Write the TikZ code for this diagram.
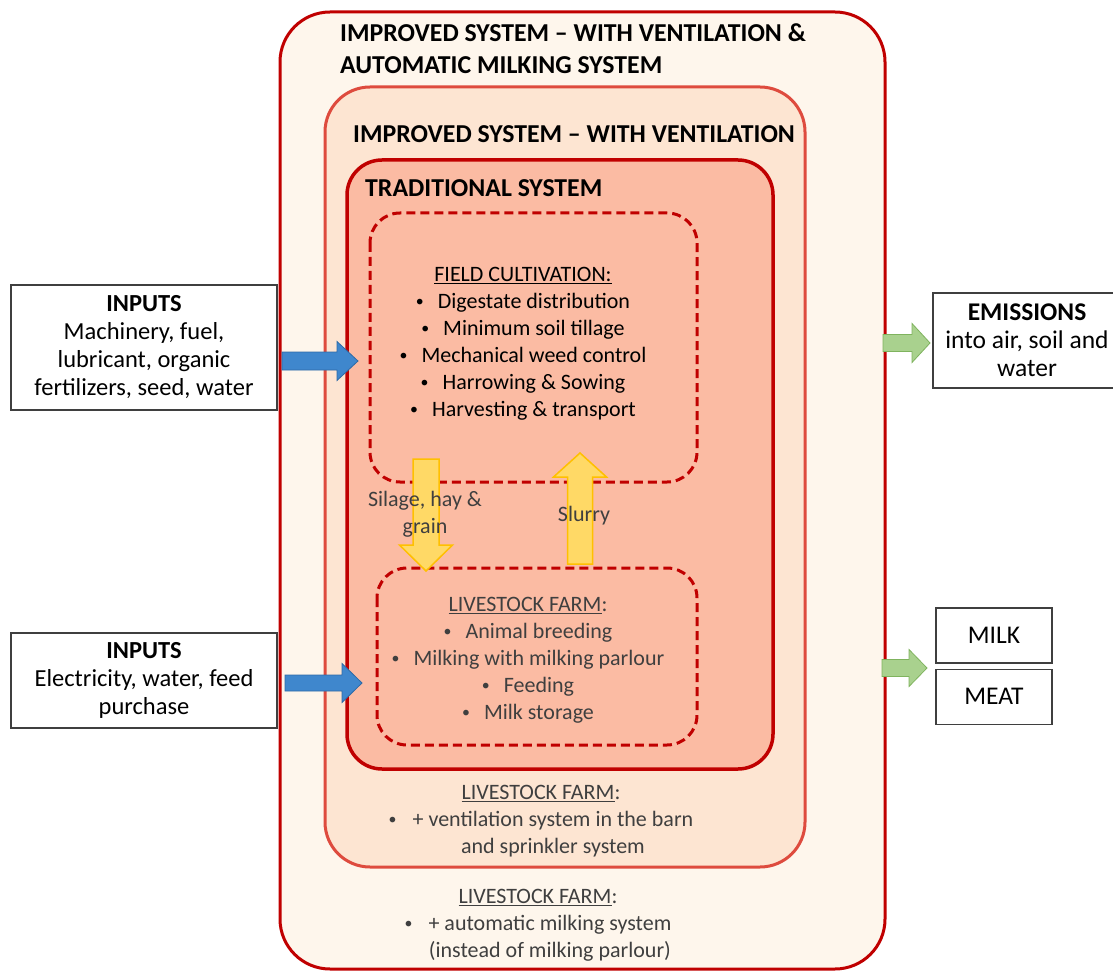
\documentclass[tikz,border=0pt]{standalone}
\usepackage{fontspec}
\usepackage{graphicx}
\setmainfont{Carlito}
\usetikzlibrary{positioning}
\definecolor{darkred}{HTML}{C00000}
\definecolor{midred}{HTML}{DE4B3E}
\definecolor{outerfill}{HTML}{FEF6EC}
\definecolor{midfill}{HTML}{FDE5D2}
\definecolor{innerfill}{HTML}{FBBBA3}
\definecolor{arrowyellow}{HTML}{FFD966}
\definecolor{edgeyellow}{HTML}{FFC000}
\definecolor{arrowblue}{HTML}{3F87CD}
\definecolor{edgeblue}{HTML}{2E6AA6}
\definecolor{arrowgreen}{HTML}{A9D18E}
\definecolor{edgegreen}{HTML}{7FB35E}
\definecolor{textgray}{HTML}{3F3F3F}
\newcommand{\blt}{\raisebox{1.8pt}{\scalebox{0.72}{•}}}
\begin{document}
\begin{tikzpicture}[x=1pt,y=-1pt,
    txt/.style={inner sep=0pt,align=center,font=\fontsize{22}{27}\selectfont},
    title/.style={inner sep=0pt,anchor=west,align=left,font=\fontsize{25.8}{32}\selectfont\bfseries},
    iobox/.style={draw=textgray,line width=1.2pt,fill=white,inner sep=0pt,align=center,font=\fontsize{24.5}{28}\selectfont},
    outbox/.style={iobox,font=\fontsize{25.5}{28}\selectfont},
    fieldbox/.style={draw=darkred,line width=3pt,dash pattern=on 9pt off 5pt,rounded corners=30pt},
    bluearrow/.style={fill=arrowblue,draw=edgeblue,line width=0.8pt},
    greenarrow/.style={fill=arrowgreen,draw=edgegreen,line width=0.8pt},
    yellowarrow/.style={fill=arrowyellow,draw=edgeyellow,line width=1.5pt}]
\useasboundingbox (0,0) rectangle (1113,973);
% system boundaries
\draw[darkred,fill=outerfill,line width=3pt,rounded corners=50pt] (280,12) rectangle (885,969);
\draw[midred,fill=midfill,line width=3pt,rounded corners=45pt] (325,87) rectangle (805,867);
\draw[darkred,fill=innerfill,line width=3.5pt,rounded corners=35pt] (347,160) rectangle (773,769);
\draw[fieldbox] (370,213) rectangle (697,482);
\draw[fieldbox] (377,568) rectangle (697,745);
% flows between field and farm
\draw[yellowarrow,shift={(426,459)}] (-13,0)--(13,0)--(13,86)--(26.5,86)--(0,112)--(-26.5,86)--(-13,86)--cycle;
\draw[yellowarrow,shift={(580,564)}] (-12.5,0)--(12.5,0)--(12.5,-87)--(26.5,-87)--(0,-111)--(-26.5,-87)--(-12.5,-87)--cycle;
% titles
\node[title] (ams) at (340,49) {IMPROVED SYSTEM -- WITH VENTILATION \&\\AUTOMATIC MILKING SYSTEM};
\node[title] (vent) at (353,134) {IMPROVED SYSTEM -- WITH VENTILATION};
\node[title] (trad) at (365,188) {TRADITIONAL SYSTEM};
% contents
\node[txt] (field) at (523,343.5) {\underline{FIELD CULTIVATION:}\\
  \blt\hspace{14pt}Digestate distribution\\
  \blt\hspace{14pt}Minimum soil tillage\\
  \blt\hspace{14pt}Mechanical weed control\\
  \blt\hspace{14pt}Harrowing \& Sowing\\
  \blt\hspace{14pt}Harvesting \& transport};
\node[txt,text=textgray] (farm) at (528,660) {\underline{LIVESTOCK FARM}:\\
  \blt\hspace{14pt}Animal breeding\\
  \blt\hspace{14pt}Milking with milking parlour\\
  \blt\hspace{14pt}Feeding\\
  \blt\hspace{14pt}Milk storage};
\node[txt,text=textgray] (feed) at (425,514) {Silage, hay \&\\grain};
\node[txt,text=textgray] (slurry) at (584,516) {Slurry};
\node[txt,text=textgray,anchor=north] (ventfarm) at (541,785) {\underline{LIVESTOCK FARM}:\\
  \blt\hspace{16pt}\begin{tabular}[t]{@{}c@{}}+ ventilation system in the barn\\and sprinkler system\end{tabular}};
\node[txt,text=textgray,anchor=north] (amsfarm) at (538,889) {\underline{LIVESTOCK FARM}:\\
  \blt\hspace{16pt}\begin{tabular}[t]{@{}c@{}}+ automatic milking system\\(instead of milking parlour)\end{tabular}};
% inputs and outputs
\node[iobox,minimum width=266pt,minimum height=125pt] (in1) at (144,347.5) {\textbf{INPUTS}\\Machinery, fuel,\\lubricant, organic\\fertilizers, seed, water};
\node[iobox,minimum width=266pt,minimum height=95pt] (in2) at (144,680.5) {\textbf{INPUTS}\\Electricity, water, feed\\purchase};
\node[outbox,minimum width=188pt,minimum height=95pt] (emis) at (1027,340.5) {\textbf{EMISSIONS}\\into air, soil and\\water};
\node[outbox,minimum width=116pt,minimum height=55pt] (milk) at (994,635.5) {MILK};
\node[outbox,minimum width=116pt,minimum height=55pt,below=5pt of milk] (meat) {MEAT};
\draw[bluearrow,shift={(282,361)}] (0,-9)--(55,-9)--(55,-19.5)--(76,0)--(55,19.5)--(55,9)--(0,9)--cycle;
\draw[bluearrow,shift={(285,683)}] (0,-8)--(57,-8)--(57,-19.5)--(77,0)--(57,19.5)--(57,8)--(0,8)--cycle;
\draw[greenarrow,shift={(883,343)}] (0,-8.5)--(29,-8.5)--(29,-19.5)--(47,0)--(29,19.5)--(29,8.5)--(0,8.5)--cycle;
\draw[greenarrow,shift={(882,668)}] (0,-8.5)--(27,-8.5)--(27,-18.5)--(45,0)--(27,18.5)--(27,8.5)--(0,8.5)--cycle;
\end{tikzpicture}
\end{document}
